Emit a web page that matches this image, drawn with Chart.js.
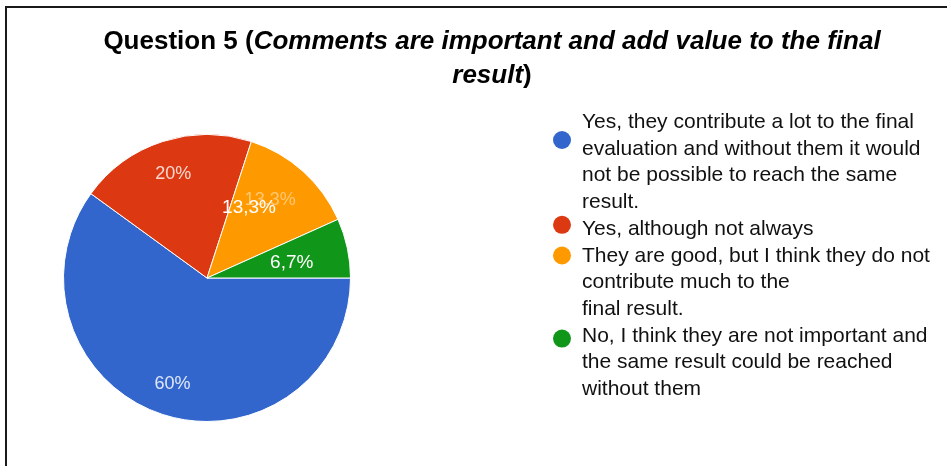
<!DOCTYPE html>
<html>
<head>
<meta charset="utf-8">
<script src="https://cdn.jsdelivr.net/npm/chart.js@4.4.1/dist/chart.umd.min.js"></script>
<style>
  html, body { margin: 0; padding: 0; background: #fff; }
  #wrap { position: relative; width: 947px; height: 466px; }
</style>
</head>
<body>
<div id="wrap"><canvas id="pieChart" width="947" height="466"></canvas></div>
<script>
// Respuestas de la pregunta 5 (cada línea de la leyenda por separado)
const respuestas = [
  ['Yes, they contribute a lot to the final', 'evaluation and without them it would', 'not be possible to reach the same', 'result.'],
  ['Yes, although not always'],
  ['They are good, but I think they do not', 'contribute much to the', 'final result.'],
  ['No, I think they are not important and', 'the same result could be reached', 'without them']
];
const porcentajes = [60, 20, 13.3, 6.7];
const colores = ['#3366cc', '#dc3912', '#ff9900', '#109618'];

const FUENTE = "'Liberation Sans', Arial, Helvetica, sans-serif";

// Formato con coma decimal: 13.3 -> "13,3%"
function formatoPct(v) {
  return String(v).replace('.', ',') + '%';
}

// Marco negro arriba y a la izquierda
const marco = {
  id: 'marco',
  beforeDraw(chart) {
    const ctx = chart.ctx;
    ctx.save();
    ctx.fillStyle = '#fff';
    ctx.fillRect(0, 0, chart.width, chart.height);
    ctx.strokeStyle = '#1a1a1a';
    ctx.lineWidth = 2;
    ctx.beginPath();
    ctx.moveTo(5, 7);
    ctx.lineTo(chart.width, 7);
    ctx.moveTo(6, 6);
    ctx.lineTo(6, chart.height);
    ctx.stroke();
    ctx.restore();
  }
};

// Título con partes en cursiva
const titulo = {
  id: 'titulo',
  afterDraw(chart, args, opts) {
    const ctx = chart.ctx;
    ctx.save();
    ctx.fillStyle = '#000';
    ctx.textBaseline = 'alphabetic';
    opts.lineas.forEach((runs, i) => {
      let total = 0;
      runs.forEach(r => {
        ctx.font = r.font;
        total += ctx.measureText(r.text).width;
      });
      let x = opts.centroX - total / 2;
      runs.forEach(r => {
        ctx.font = r.font;
        ctx.fillText(r.text, x, opts.y + i * opts.interlineado);
        x += ctx.measureText(r.text).width;
      });
    });
    ctx.restore();
  }
};

// Porcentajes sobre cada porción
const etiquetas = {
  id: 'etiquetas',
  afterDatasetsDraw(chart, args, opts) {
    const ctx = chart.ctx;
    const meta = chart.getDatasetMeta(0);
    const valores = chart.data.datasets[0].data;
    ctx.save();
    ctx.textAlign = 'center';
    ctx.textBaseline = 'middle';
    const pintar = (arc, texto, factor, giro, alfa, font) => {
      const ang = (arc.startAngle + arc.endAngle) / 2 + giro * Math.PI / 180;
      const r = arc.outerRadius * factor;
      ctx.font = font;
      ctx.fillStyle = 'rgba(255,255,255,' + alfa + ')';
      ctx.fillText(texto, arc.x + Math.cos(ang) * r, arc.y + Math.sin(ang) * r);
    };
    meta.data.forEach((arc, i) => {
      pintar(arc, formatoPct(valores[i]), opts.radio[i], opts.giro[i], opts.alfa[i], opts.fonts[i]);
    });
    const ex = opts.extra;
    pintar(meta.data[ex.indice], formatoPct(valores[ex.indice]), ex.radio, ex.giro, 1, ex.font);
    ctx.restore();
  }
};

// Leyenda a la derecha con varias líneas por elemento
const leyenda = {
  id: 'leyenda',
  afterDraw(chart, args, opts) {
    const ctx = chart.ctx;
    const colors = chart.data.datasets[0].backgroundColor;
    ctx.save();
    ctx.font = opts.font;
    ctx.textBaseline = 'alphabetic';
    let y = opts.y;
    chart.data.labels.forEach((lineas, i) => {
      ctx.fillStyle = colors[i];
      ctx.beginPath();
      ctx.arc(opts.xPunto, y + opts.desplazamiento[i], opts.radioPunto, 0, Math.PI * 2);
      ctx.fill();
      ctx.fillStyle = '#111';
      lineas.forEach(l => {
        ctx.fillText(l, opts.xTexto, y);
        y += opts.interlineado;
      });
    });
    ctx.restore();
  }
};

const ctxPie = document.getElementById('pieChart').getContext('2d');
new Chart(ctxPie, {
  type: 'pie',
  data: {
    labels: respuestas,
    datasets: [{
      data: porcentajes,
      backgroundColor: colores,
      borderColor: '#ffffff',
      borderWidth: 1,
      hoverOffset: 0
    }]
  },
  options: {
    responsive: false,
    animation: false,
    rotation: 90,
    layout: {
      padding: { left: 63, top: 132, right: 596, bottom: 42 }
    },
    plugins: {
      legend: { display: false },
      tooltip: { enabled: false },
      titulo: {
        centroX: 492,
        y: 49,
        interlineado: 34,
        lineas: [
          [
            { text: 'Question 5 (', font: 'bold 26px ' + FUENTE },
            { text: 'Comments are important and add value to the final', font: 'italic bold 26px ' + FUENTE }
          ],
          [
            { text: 'result', font: 'italic bold 26px ' + FUENTE },
            { text: ')', font: 'bold 26px ' + FUENTE }
          ]
        ]
      },
      etiquetas: {
        fonts: ['18px ' + FUENTE, '18px ' + FUENTE, '18px ' + FUENTE, '19px ' + FUENTE],
        radio: [0.78, 0.76, 0.7, 0.6],
        giro: [0, 0, -3, 2],
        alfa: [0.85, 0.8, 0.45, 1],
        extra: { indice: 2, radio: 0.57, giro: -11, font: '19px ' + FUENTE }
      },
      leyenda: {
        font: '21px ' + FUENTE,
        xPunto: 562,
        radioPunto: 9,
        xTexto: 582,
        y: 128,
        interlineado: 26.7,
        desplazamiento: [12, -10, -6, -3]
      }
    }
  },
  plugins: [marco, titulo, etiquetas, leyenda]
});
</script>
</body>
</html>
